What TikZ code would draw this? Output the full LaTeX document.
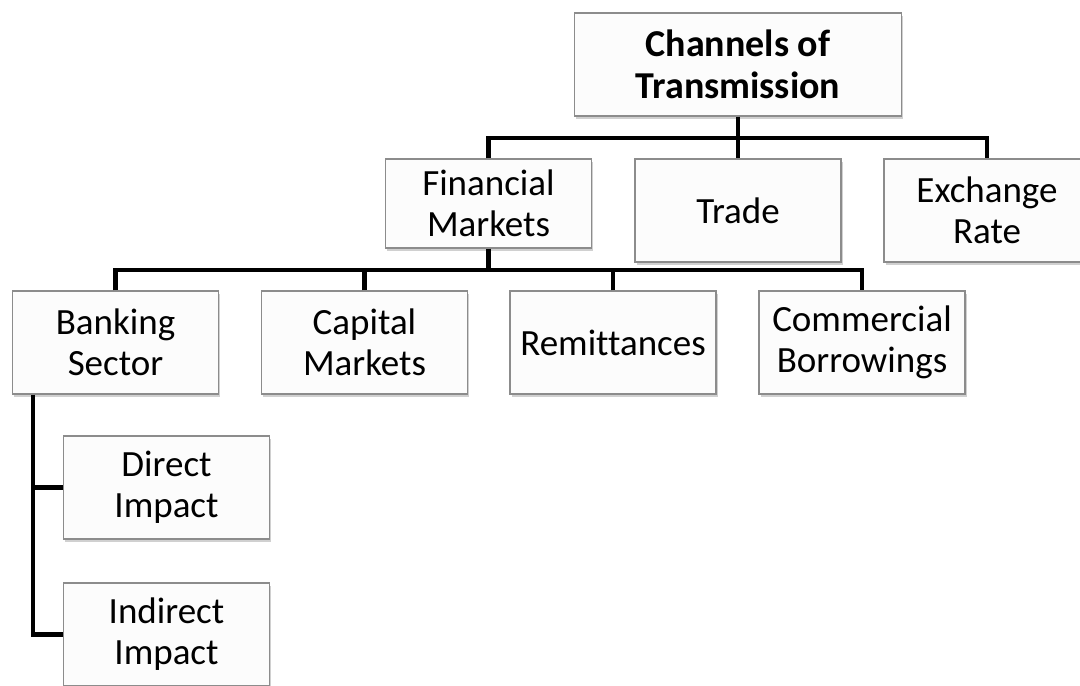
\documentclass[tikz,border=0pt]{standalone}
\usepackage{fontspec}
\setmainfont[Ligatures=NoCommon]{Carlito}
\usetikzlibrary{shadows}
\begin{document}
\begin{tikzpicture}[x=1pt,y=-1pt,
  box/.style={draw=black!45, fill=black!1, line width=1.2pt,
    minimum width=206pt, minimum height=103pt, align=center, inner sep=0pt,
    font=\fontsize{37}{41}\selectfont,
    drop shadow={shadow xshift=1.5pt, shadow yshift=-2.5pt, opacity=0.3, fill=black!60}},
  conn/.style={line width=4.6pt, draw=black, line join=miter}]
\clip (0,0) rectangle (1080,686);
\fill[white] (0,0) rectangle (1080,686);
% nodes
\node[box, minimum width=327pt, font=\fontsize{38}{42}\selectfont\bfseries] (top) at (738,64.5) {Channels of\\Transmission};
\node[box, minimum height=89pt] (fin) at (488.5,203.5) {Financial\\Markets};
\node[box] (trade) at (738,210.5) {Trade};
\node[box] (exch) at (987,210.5) {Exchange\\Rate};
\node[box] (bank) at (115.5,342.5) {Banking\\Sector};
\node[box] (cap) at (364.5,342.5) {Capital\\Markets};
\node[box] (rem) at (613,342.5) {Remittances};
\node[box] (comm) at (862,342.5) {Commercial\\Borrowings};
\node[box] (dir) at (166.5,487.5) {Direct\\Impact};
\node[box] (ind) at (166.5,634.5) {Indirect\\Impact};
% connectors
\coordinate (b1) at (738,138);
\coordinate (b2) at (488.5,270);
\coordinate (v) at (33,0);
\draw[conn] (top.south) -- (b1);
\draw[conn] (fin.north) |- (b1) -| (exch.north);
\draw[conn] (b1) -- (trade.north);
\draw[conn] (fin.south) -- (b2);
\draw[conn] (bank.north) |- (b2) -| (comm.north);
\draw[conn] (cap.north) -- (cap.north |- b2);
\draw[conn] (rem.north) -- (rem.north |- b2);
\draw[conn] (bank.south -| v) |- (ind.west);
\draw[conn] (v |- dir.west) -- (dir.west);
\end{tikzpicture}
\end{document}
